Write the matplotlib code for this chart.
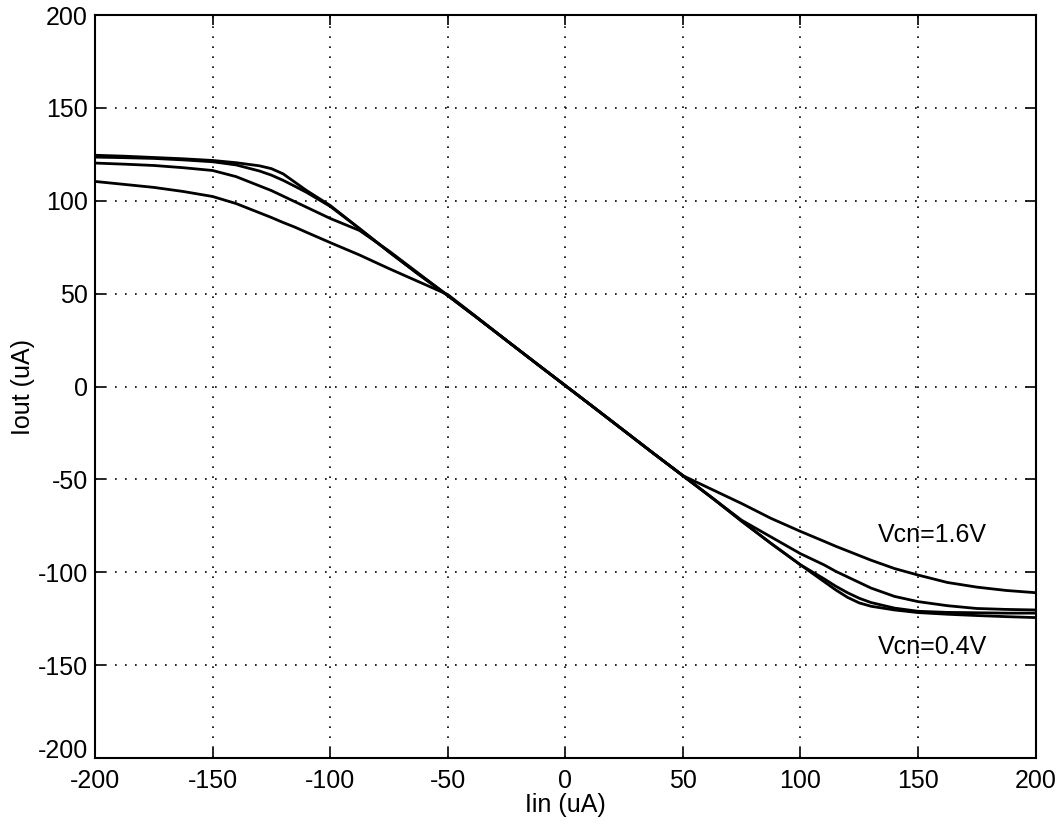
"""Transfer curves Iout vs Iin for four control voltages (MATLAB-style plot)."""

import matplotlib

matplotlib.use("Agg")
import matplotlib.pyplot as plt

plt.rcParams["font.family"] = ["Liberation Sans", "DejaVu Sans"]
plt.rcParams["axes.unicode_minus"] = False  # plain hyphen like the original

# input current sweep (uA)
iin = [-200, -187.5, -175, -162.5, -150, -140, -130, -125, -120, -115, -110, -100,
       -87.5, -75, -62.5, -50, -37.5, -25, -12.5, 0, 12.5, 25, 37.5, 50, 62.5, 75,
       87.5, 100, 110, 115, 120, 125, 130, 140, 150, 162.5, 175, 187.5, 200]

# output current (uA), one list per curve
iout_04 = [124.5, 124.0, 123.3, 122.6, 121.7, 120.5, 118.8, 117.3, 114.5, 110.0, 105.5, 97.5,
           85.0, 72.5, 60.5, 49.0, 37.0, 24.8, 12.6, 0.5, -11.6, -23.8, -36.0, -48.0, -60.0, -72.5,
           -84.5, -96.0, -105.0, -109.5, -113.5, -116.5, -118.3, -120.3, -121.7, -122.6, -123.3, -123.9, -124.4]
iout_08 = [123.5, 123.2, 122.8, 122.0, 121.0, 119.3, 116.0, 113.8, 111.0, 107.8, 104.5, 97.0,
           85.0, 72.5, 60.5, 49.0, 37.0, 24.8, 12.6, 0.5, -11.6, -23.8, -36.0, -48.0, -60.0, -72.5,
           -84.5, -96.0, -103.5, -107.5, -111.0, -114.0, -116.3, -119.3, -121.0, -121.6, -121.8, -122.0, -122.0]
iout_12 = [120.3, 119.7, 119.0, 117.8, 116.3, 113.0, 108.0, 105.5, 102.5, 99.5, 96.5, 90.5,
           84.0, 73.0, 61.0, 49.0, 37.0, 24.8, 12.6, 0.5, -11.6, -23.8, -36.0, -48.0, -60.0, -72.0,
           -81.0, -90.0, -96.0, -99.5, -102.5, -105.5, -108.5, -113.0, -115.8, -118.0, -119.5, -120.0, -120.3]
iout_16 = [110.4, 108.8, 107.2, 105.0, 102.3, 98.5, 93.5, 91.0, 88.3, 85.8, 83.0, 77.5,
           70.8, 63.5, 56.5, 49.5, 37.2, 24.8, 12.6, 0.5, -11.6, -23.8, -36.0, -48.0, -55.5, -63.0,
           -71.0, -78.0, -83.3, -86.0, -88.5, -91.0, -93.5, -98.0, -101.5, -105.5, -108.0, -109.8, -111.0]

ticks = [-200, -150, -100, -50, 0, 50, 100, 150, 200]

fig = plt.figure(figsize=(10.6, 8.25), dpi=100)
ax = fig.add_axes([0.0896, 0.0812, 0.8874, 0.9006])

for ys in (iout_04, iout_08, iout_12, iout_16):
    ax.plot(iin, ys, color="black", linewidth=2.0)

ax.text(133, -80, "Vcn=1.6V", fontsize=18, va="center", ha="left")
ax.text(133, -140, "Vcn=0.4V", fontsize=18, va="center", ha="left")

ax.set_xlim(-200, 200)
ax.set_ylim(-200, 200)
ax.set_xticks(ticks)
ax.set_yticks(ticks)
ax.tick_params(direction="in", length=7, width=1.2, top=True, right=True,
               labelsize=18)
ax.tick_params(axis="x", pad=8)
ax.tick_params(axis="y", pad=5)
# sit the bottom y label on the axis line, as MATLAB does, so it clears the x label
ax.get_yticklabels()[0].set_va("baseline")
ax.grid(True, color="black", linestyle=(0, (1, 5)), linewidth=1.2)
for spine in ax.spines.values():
    spine.set_linewidth(1.5)

ax.set_xlabel("Iin (uA)", fontsize=18, labelpad=0)
ax.set_ylabel("Iout (uA)", fontsize=18, labelpad=2)

fig.savefig("out.png", dpi=100)
